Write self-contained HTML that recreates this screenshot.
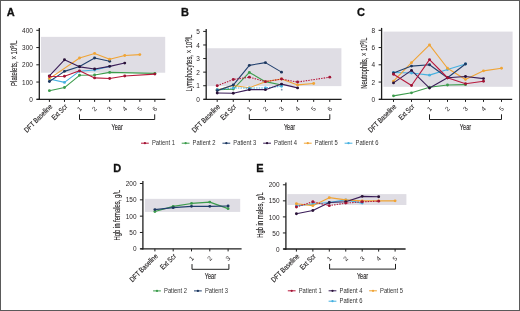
<!DOCTYPE html>
<html><head><meta charset="utf-8"><style>
html,body{margin:0;padding:0;background:#fff;}
#wrap{position:relative;width:520px;height:311px;overflow:hidden;background:#fff;}
svg{position:absolute;left:0;top:0;will-change:transform;}
text{font-family:"Liberation Sans", sans-serif;}
.b{stroke:#2a2a2a;stroke-width:0.14px;}
</style></head><body><div id="wrap">
<svg width="520" height="311" viewBox="0 0 520 311" font-family='"Liberation Sans", sans-serif'>
<rect x="0" y="0" width="520" height="311" fill="#fff"/>
<rect x="40.90" y="36.86" width="124.30" height="35.88" fill="#dfdde4"/>
<polyline points="49.40,90.67 64.47,87.57 79.54,75.32 94.61,74.98 109.68,72.39 154.89,73.42" fill="none" stroke="#3c9c4c" stroke-width="1.1" stroke-linejoin="round"/>
<circle cx="49.40" cy="90.67" r="1.45" fill="#3c9c4c"/>
<circle cx="64.47" cy="87.57" r="1.45" fill="#3c9c4c"/>
<circle cx="79.54" cy="75.32" r="1.45" fill="#3c9c4c"/>
<circle cx="94.61" cy="74.98" r="1.45" fill="#3c9c4c"/>
<circle cx="109.68" cy="72.39" r="1.45" fill="#3c9c4c"/>
<circle cx="154.89" cy="73.42" r="1.45" fill="#3c9c4c"/>
<polyline points="49.40,78.94 64.47,82.39 79.54,71.18 94.61,69.97 109.68,66.35" fill="none" stroke="#45b0e0" stroke-width="1.1" stroke-linejoin="round"/>
<circle cx="49.40" cy="78.94" r="1.45" fill="#45b0e0"/>
<circle cx="64.47" cy="82.39" r="1.45" fill="#45b0e0"/>
<circle cx="79.54" cy="71.18" r="1.45" fill="#45b0e0"/>
<circle cx="94.61" cy="69.97" r="1.45" fill="#45b0e0"/>
<circle cx="109.68" cy="66.35" r="1.45" fill="#45b0e0"/>
<polyline points="49.40,81.53 64.47,71.36 79.54,66.53 94.61,58.07 109.68,61.18" fill="none" stroke="#22406e" stroke-width="1.1" stroke-linejoin="round"/>
<circle cx="49.40" cy="81.53" r="1.45" fill="#1c365e"/>
<circle cx="64.47" cy="71.36" r="1.45" fill="#1c365e"/>
<circle cx="79.54" cy="66.53" r="1.45" fill="#1c365e"/>
<circle cx="94.61" cy="58.07" r="1.45" fill="#1c365e"/>
<circle cx="109.68" cy="61.18" r="1.45" fill="#1c365e"/>
<polyline points="49.40,78.60 79.54,58.07 94.61,53.41 109.68,59.28 124.75,55.48 139.82,54.62" fill="none" stroke="#f0a435" stroke-width="1.1" stroke-linejoin="round"/>
<circle cx="49.40" cy="78.60" r="1.45" fill="#f0a435"/>
<circle cx="79.54" cy="58.07" r="1.45" fill="#f0a435"/>
<circle cx="94.61" cy="53.41" r="1.45" fill="#f0a435"/>
<circle cx="109.68" cy="59.28" r="1.45" fill="#f0a435"/>
<circle cx="124.75" cy="55.48" r="1.45" fill="#f0a435"/>
<circle cx="139.82" cy="54.62" r="1.45" fill="#f0a435"/>
<polyline points="49.40,75.84 64.47,59.80 79.54,66.87 94.61,68.94 109.68,66.35 124.75,63.08" fill="none" stroke="#3a1d58" stroke-width="1.1" stroke-linejoin="round"/>
<circle cx="49.40" cy="75.84" r="1.45" fill="#2a1238"/>
<circle cx="64.47" cy="59.80" r="1.45" fill="#2a1238"/>
<circle cx="79.54" cy="66.87" r="1.45" fill="#2a1238"/>
<circle cx="94.61" cy="68.94" r="1.45" fill="#2a1238"/>
<circle cx="109.68" cy="66.35" r="1.45" fill="#2a1238"/>
<circle cx="124.75" cy="63.08" r="1.45" fill="#2a1238"/>
<polyline points="49.40,76.53 64.47,76.19 79.54,70.84 94.61,77.91 109.68,78.43 124.75,76.01 154.89,74.11" fill="none" stroke="#b8193c" stroke-width="1.1" stroke-linejoin="round"/>
<circle cx="49.40" cy="76.53" r="1.45" fill="#a01535"/>
<circle cx="64.47" cy="76.19" r="1.45" fill="#a01535"/>
<circle cx="79.54" cy="70.84" r="1.45" fill="#a01535"/>
<circle cx="94.61" cy="77.91" r="1.45" fill="#a01535"/>
<circle cx="109.68" cy="78.43" r="1.45" fill="#a01535"/>
<circle cx="124.75" cy="76.01" r="1.45" fill="#a01535"/>
<circle cx="154.89" cy="74.11" r="1.45" fill="#a01535"/>
<line x1="39.30" y1="27.90" x2="39.30" y2="99.95" stroke="#1e1e1e" stroke-width="1.3" />
<line x1="36.70" y1="99.30" x2="165.40" y2="99.30" stroke="#1e1e1e" stroke-width="1.3" />
<line x1="36.30" y1="99.30" x2="39.30" y2="99.30" stroke="#1e1e1e" stroke-width="1.0" />
<text x="32.90" y="99.40" font-size="6.5" text-anchor="end" font-weight="normal" fill="#231f20" textLength="3.6" lengthAdjust="spacingAndGlyphs" dominant-baseline="central" >0</text>
<line x1="36.30" y1="82.05" x2="39.30" y2="82.05" stroke="#1e1e1e" stroke-width="1.0" />
<text x="32.90" y="82.15" font-size="6.5" text-anchor="end" font-weight="normal" fill="#231f20" textLength="10.8" lengthAdjust="spacingAndGlyphs" dominant-baseline="central" >100</text>
<line x1="36.30" y1="64.80" x2="39.30" y2="64.80" stroke="#1e1e1e" stroke-width="1.0" />
<text x="32.90" y="64.90" font-size="6.5" text-anchor="end" font-weight="normal" fill="#231f20" textLength="10.8" lengthAdjust="spacingAndGlyphs" dominant-baseline="central" >200</text>
<line x1="36.30" y1="47.55" x2="39.30" y2="47.55" stroke="#1e1e1e" stroke-width="1.0" />
<text x="32.90" y="47.65" font-size="6.5" text-anchor="end" font-weight="normal" fill="#231f20" textLength="10.8" lengthAdjust="spacingAndGlyphs" dominant-baseline="central" >300</text>
<line x1="36.30" y1="30.30" x2="39.30" y2="30.30" stroke="#1e1e1e" stroke-width="1.0" />
<text x="32.90" y="30.40" font-size="6.5" text-anchor="end" font-weight="normal" fill="#231f20" textLength="10.8" lengthAdjust="spacingAndGlyphs" dominant-baseline="central" >400</text>
<line x1="49.40" y1="99.30" x2="49.40" y2="101.90" stroke="#1e1e1e" stroke-width="1.0" />
<line x1="64.47" y1="99.30" x2="64.47" y2="101.90" stroke="#1e1e1e" stroke-width="1.0" />
<line x1="79.54" y1="99.30" x2="79.54" y2="101.90" stroke="#1e1e1e" stroke-width="1.0" />
<line x1="94.61" y1="99.30" x2="94.61" y2="101.90" stroke="#1e1e1e" stroke-width="1.0" />
<line x1="109.68" y1="99.30" x2="109.68" y2="101.90" stroke="#1e1e1e" stroke-width="1.0" />
<line x1="124.75" y1="99.30" x2="124.75" y2="101.90" stroke="#1e1e1e" stroke-width="1.0" />
<line x1="139.82" y1="99.30" x2="139.82" y2="101.90" stroke="#1e1e1e" stroke-width="1.0" />
<line x1="154.89" y1="99.30" x2="154.89" y2="101.90" stroke="#1e1e1e" stroke-width="1.0" />
<text x="51.00" y="105.40" font-size="7.3" text-anchor="end" font-weight="normal" fill="#231f20" transform="rotate(-45 51.00 105.40)" textLength="36.5" lengthAdjust="spacingAndGlyphs" dominant-baseline="central"  class="b">DFT Baseline</text>
<text x="66.07" y="105.40" font-size="7.3" text-anchor="end" font-weight="normal" fill="#231f20" transform="rotate(-45 66.07 105.40)" textLength="19.0" lengthAdjust="spacingAndGlyphs" dominant-baseline="central"  class="b">Ext Scr</text>
<text x="80.54" y="107.40" font-size="6.5" text-anchor="end" font-weight="normal" fill="#231f20" transform="rotate(-45 80.54 107.40)" dominant-baseline="central" >1</text>
<text x="95.61" y="107.40" font-size="6.5" text-anchor="end" font-weight="normal" fill="#231f20" transform="rotate(-45 95.61 107.40)" dominant-baseline="central" >2</text>
<text x="110.68" y="107.40" font-size="6.5" text-anchor="end" font-weight="normal" fill="#231f20" transform="rotate(-45 110.68 107.40)" dominant-baseline="central" >3</text>
<text x="125.75" y="107.40" font-size="6.5" text-anchor="end" font-weight="normal" fill="#231f20" transform="rotate(-45 125.75 107.40)" dominant-baseline="central" >4</text>
<text x="140.82" y="107.40" font-size="6.5" text-anchor="end" font-weight="normal" fill="#231f20" transform="rotate(-45 140.82 107.40)" dominant-baseline="central" >5</text>
<text x="155.89" y="107.40" font-size="6.5" text-anchor="end" font-weight="normal" fill="#231f20" transform="rotate(-45 155.89 107.40)" dominant-baseline="central" >6</text>
<polyline points="79.50,114.30 79.50,119.50 154.70,119.50 154.70,114.30" fill="none" stroke="#1e1e1e" stroke-width="1.0"/>
<text x="117.10" y="129.80" font-size="8.8" text-anchor="middle" font-weight="normal" fill="#231f20" textLength="11.3" lengthAdjust="spacingAndGlyphs"  class="b">Year</text>
<text x="0" y="0" font-size="8.6" text-anchor="middle" fill="#231f20" class="b" transform="translate(17.10 63.25) rotate(-90) scale(0.6982 1)">Platelets, × 10<tspan dy="-2.9" font-size="5.4">9</tspan><tspan dy="2.9">/L</tspan></text>
<text x="6.80" y="15.90" font-size="11.0" text-anchor="start" font-weight="bold" fill="#111" stroke="#111" stroke-width="0.3">A</text>
<rect x="207.20" y="48.24" width="134.20" height="37.89" fill="#dfdde4"/>
<polyline points="217.20,89.66 233.28,89.11 249.36,72.41 265.44,81.65 281.52,85.04" fill="none" stroke="#3c9c4c" stroke-width="1.1" stroke-linejoin="round"/>
<circle cx="217.20" cy="89.66" r="1.45" fill="#3c9c4c"/>
<circle cx="233.28" cy="89.11" r="1.45" fill="#3c9c4c"/>
<circle cx="249.36" cy="72.41" r="1.45" fill="#3c9c4c"/>
<circle cx="265.44" cy="81.65" r="1.45" fill="#3c9c4c"/>
<circle cx="281.52" cy="85.04" r="1.45" fill="#3c9c4c"/>
<polyline points="217.20,90.07 233.28,85.45 249.36,87.76 265.44,81.65 281.52,78.93 297.60,84.91 313.68,83.55" fill="none" stroke="#f0a435" stroke-width="1.1" stroke-linejoin="round"/>
<circle cx="217.20" cy="90.07" r="1.45" fill="#f0a435"/>
<circle cx="233.28" cy="85.45" r="1.45" fill="#f0a435"/>
<circle cx="249.36" cy="87.76" r="1.45" fill="#f0a435"/>
<circle cx="265.44" cy="81.65" r="1.45" fill="#f0a435"/>
<circle cx="281.52" cy="78.93" r="1.45" fill="#f0a435"/>
<circle cx="297.60" cy="84.91" r="1.45" fill="#f0a435"/>
<circle cx="313.68" cy="83.55" r="1.45" fill="#f0a435"/>
<polyline points="217.20,89.79 233.28,87.89 249.36,88.16 265.44,87.89 281.52,86.26" fill="none" stroke="#45b0e0" stroke-width="1.1" stroke-linejoin="round" stroke-dasharray="1.5 1.1"/>
<circle cx="217.20" cy="89.79" r="1.45" fill="#45b0e0"/>
<circle cx="233.28" cy="87.89" r="1.45" fill="#45b0e0"/>
<circle cx="249.36" cy="88.16" r="1.45" fill="#45b0e0"/>
<circle cx="265.44" cy="87.89" r="1.45" fill="#45b0e0"/>
<circle cx="281.52" cy="86.26" r="1.45" fill="#45b0e0"/>
<polyline points="217.20,90.61 233.28,85.04 249.36,65.35 265.44,62.63 281.52,72.14" fill="none" stroke="#22406e" stroke-width="1.1" stroke-linejoin="round"/>
<circle cx="217.20" cy="90.61" r="1.45" fill="#1c365e"/>
<circle cx="233.28" cy="85.04" r="1.45" fill="#1c365e"/>
<circle cx="249.36" cy="65.35" r="1.45" fill="#1c365e"/>
<circle cx="265.44" cy="62.63" r="1.45" fill="#1c365e"/>
<circle cx="281.52" cy="72.14" r="1.45" fill="#1c365e"/>
<polyline points="217.20,93.05 233.28,93.32 249.36,89.66 265.44,89.66 281.52,84.09 297.60,87.89" fill="none" stroke="#3a1d58" stroke-width="1.1" stroke-linejoin="round"/>
<circle cx="217.20" cy="93.05" r="1.45" fill="#2a1238"/>
<circle cx="233.28" cy="93.32" r="1.45" fill="#2a1238"/>
<circle cx="249.36" cy="89.66" r="1.45" fill="#2a1238"/>
<circle cx="265.44" cy="89.66" r="1.45" fill="#2a1238"/>
<circle cx="281.52" cy="84.09" r="1.45" fill="#2a1238"/>
<circle cx="297.60" cy="87.89" r="1.45" fill="#2a1238"/>
<polyline points="217.20,85.72 233.28,79.47 249.36,77.16 265.44,81.65 281.52,79.07 297.60,82.05 329.76,77.16" fill="none" stroke="#b8193c" stroke-width="1.1" stroke-linejoin="round" stroke-dasharray="1.5 1.1"/>
<circle cx="217.20" cy="85.72" r="1.45" fill="#a01535"/>
<circle cx="233.28" cy="79.47" r="1.45" fill="#a01535"/>
<circle cx="249.36" cy="77.16" r="1.45" fill="#a01535"/>
<circle cx="265.44" cy="81.65" r="1.45" fill="#a01535"/>
<circle cx="281.52" cy="79.07" r="1.45" fill="#a01535"/>
<circle cx="297.60" cy="82.05" r="1.45" fill="#a01535"/>
<circle cx="329.76" cy="77.16" r="1.45" fill="#a01535"/>
<line x1="206.20" y1="29.00" x2="206.20" y2="99.95" stroke="#1e1e1e" stroke-width="1.3" />
<line x1="203.60" y1="99.30" x2="341.60" y2="99.30" stroke="#1e1e1e" stroke-width="1.3" />
<line x1="203.20" y1="99.30" x2="206.20" y2="99.30" stroke="#1e1e1e" stroke-width="1.0" />
<text x="199.80" y="99.40" font-size="6.5" text-anchor="end" font-weight="normal" fill="#231f20" textLength="3.6" lengthAdjust="spacingAndGlyphs" dominant-baseline="central" >0</text>
<line x1="203.20" y1="85.72" x2="206.20" y2="85.72" stroke="#1e1e1e" stroke-width="1.0" />
<text x="199.80" y="85.82" font-size="6.5" text-anchor="end" font-weight="normal" fill="#231f20" textLength="3.6" lengthAdjust="spacingAndGlyphs" dominant-baseline="central" >1</text>
<line x1="203.20" y1="72.14" x2="206.20" y2="72.14" stroke="#1e1e1e" stroke-width="1.0" />
<text x="199.80" y="72.24" font-size="6.5" text-anchor="end" font-weight="normal" fill="#231f20" textLength="3.6" lengthAdjust="spacingAndGlyphs" dominant-baseline="central" >2</text>
<line x1="203.20" y1="58.56" x2="206.20" y2="58.56" stroke="#1e1e1e" stroke-width="1.0" />
<text x="199.80" y="58.66" font-size="6.5" text-anchor="end" font-weight="normal" fill="#231f20" textLength="3.6" lengthAdjust="spacingAndGlyphs" dominant-baseline="central" >3</text>
<line x1="203.20" y1="44.98" x2="206.20" y2="44.98" stroke="#1e1e1e" stroke-width="1.0" />
<text x="199.80" y="45.08" font-size="6.5" text-anchor="end" font-weight="normal" fill="#231f20" textLength="3.6" lengthAdjust="spacingAndGlyphs" dominant-baseline="central" >4</text>
<line x1="203.20" y1="31.40" x2="206.20" y2="31.40" stroke="#1e1e1e" stroke-width="1.0" />
<text x="199.80" y="31.50" font-size="6.5" text-anchor="end" font-weight="normal" fill="#231f20" textLength="3.6" lengthAdjust="spacingAndGlyphs" dominant-baseline="central" >5</text>
<line x1="217.20" y1="99.30" x2="217.20" y2="101.90" stroke="#1e1e1e" stroke-width="1.0" />
<line x1="233.28" y1="99.30" x2="233.28" y2="101.90" stroke="#1e1e1e" stroke-width="1.0" />
<line x1="249.36" y1="99.30" x2="249.36" y2="101.90" stroke="#1e1e1e" stroke-width="1.0" />
<line x1="265.44" y1="99.30" x2="265.44" y2="101.90" stroke="#1e1e1e" stroke-width="1.0" />
<line x1="281.52" y1="99.30" x2="281.52" y2="101.90" stroke="#1e1e1e" stroke-width="1.0" />
<line x1="297.60" y1="99.30" x2="297.60" y2="101.90" stroke="#1e1e1e" stroke-width="1.0" />
<line x1="313.68" y1="99.30" x2="313.68" y2="101.90" stroke="#1e1e1e" stroke-width="1.0" />
<line x1="329.76" y1="99.30" x2="329.76" y2="101.90" stroke="#1e1e1e" stroke-width="1.0" />
<text x="218.80" y="105.40" font-size="7.3" text-anchor="end" font-weight="normal" fill="#231f20" transform="rotate(-45 218.80 105.40)" textLength="36.5" lengthAdjust="spacingAndGlyphs" dominant-baseline="central"  class="b">DFT Baseline</text>
<text x="234.88" y="105.40" font-size="7.3" text-anchor="end" font-weight="normal" fill="#231f20" transform="rotate(-45 234.88 105.40)" textLength="19.0" lengthAdjust="spacingAndGlyphs" dominant-baseline="central"  class="b">Ext Scr</text>
<text x="250.36" y="107.40" font-size="6.5" text-anchor="end" font-weight="normal" fill="#231f20" transform="rotate(-45 250.36 107.40)" dominant-baseline="central" >1</text>
<text x="266.44" y="107.40" font-size="6.5" text-anchor="end" font-weight="normal" fill="#231f20" transform="rotate(-45 266.44 107.40)" dominant-baseline="central" >2</text>
<text x="282.52" y="107.40" font-size="6.5" text-anchor="end" font-weight="normal" fill="#231f20" transform="rotate(-45 282.52 107.40)" dominant-baseline="central" >3</text>
<text x="298.60" y="107.40" font-size="6.5" text-anchor="end" font-weight="normal" fill="#231f20" transform="rotate(-45 298.60 107.40)" dominant-baseline="central" >4</text>
<text x="314.68" y="107.40" font-size="6.5" text-anchor="end" font-weight="normal" fill="#231f20" transform="rotate(-45 314.68 107.40)" dominant-baseline="central" >5</text>
<text x="330.76" y="107.40" font-size="6.5" text-anchor="end" font-weight="normal" fill="#231f20" transform="rotate(-45 330.76 107.40)" dominant-baseline="central" >6</text>
<polyline points="249.30,114.30 249.30,119.50 329.80,119.50 329.80,114.30" fill="none" stroke="#1e1e1e" stroke-width="1.0"/>
<text x="289.55" y="129.80" font-size="8.8" text-anchor="middle" font-weight="normal" fill="#231f20" textLength="11.3" lengthAdjust="spacingAndGlyphs"  class="b">Year</text>
<text x="0" y="0" font-size="8.6" text-anchor="middle" fill="#231f20" class="b" transform="translate(191.60 63.00) rotate(-90) scale(0.6932 1)">Lymphocytes, × 10<tspan dy="-2.9" font-size="5.4">9</tspan><tspan dy="2.9">/L</tspan></text>
<text x="181.00" y="15.90" font-size="11.0" text-anchor="start" font-weight="bold" fill="#111" stroke="#111" stroke-width="0.3">B</text>
<rect x="383.40" y="31.59" width="129.20" height="55.20" fill="#dfdde4"/>
<polyline points="393.50,95.85 411.50,92.83 429.50,87.22 447.50,85.07 465.50,84.64" fill="none" stroke="#3c9c4c" stroke-width="1.1" stroke-linejoin="round"/>
<circle cx="393.50" cy="95.85" r="1.45" fill="#3c9c4c"/>
<circle cx="411.50" cy="92.83" r="1.45" fill="#3c9c4c"/>
<circle cx="429.50" cy="87.22" r="1.45" fill="#3c9c4c"/>
<circle cx="447.50" cy="85.07" r="1.45" fill="#3c9c4c"/>
<circle cx="465.50" cy="84.64" r="1.45" fill="#3c9c4c"/>
<polyline points="393.50,72.56 411.50,72.99 429.50,75.15 447.50,69.54 465.50,63.94" fill="none" stroke="#45b0e0" stroke-width="1.1" stroke-linejoin="round"/>
<circle cx="393.50" cy="72.56" r="1.45" fill="#45b0e0"/>
<circle cx="411.50" cy="72.99" r="1.45" fill="#45b0e0"/>
<circle cx="429.50" cy="75.15" r="1.45" fill="#45b0e0"/>
<circle cx="447.50" cy="69.54" r="1.45" fill="#45b0e0"/>
<circle cx="465.50" cy="63.94" r="1.45" fill="#45b0e0"/>
<polyline points="393.50,81.19 411.50,62.64 429.50,44.96 447.50,68.25 465.50,79.46 483.50,70.84 501.50,68.25" fill="none" stroke="#f0a435" stroke-width="1.1" stroke-linejoin="round"/>
<circle cx="393.50" cy="81.19" r="1.45" fill="#f0a435"/>
<circle cx="411.50" cy="62.64" r="1.45" fill="#f0a435"/>
<circle cx="429.50" cy="44.96" r="1.45" fill="#f0a435"/>
<circle cx="447.50" cy="68.25" r="1.45" fill="#f0a435"/>
<circle cx="465.50" cy="79.46" r="1.45" fill="#f0a435"/>
<circle cx="483.50" cy="70.84" r="1.45" fill="#f0a435"/>
<circle cx="501.50" cy="68.25" r="1.45" fill="#f0a435"/>
<polyline points="393.50,72.99 411.50,66.09 429.50,64.80 447.50,77.74 465.50,63.94" fill="none" stroke="#22406e" stroke-width="1.1" stroke-linejoin="round"/>
<circle cx="393.50" cy="72.99" r="1.45" fill="#1c365e"/>
<circle cx="411.50" cy="66.09" r="1.45" fill="#1c365e"/>
<circle cx="429.50" cy="64.80" r="1.45" fill="#1c365e"/>
<circle cx="447.50" cy="77.74" r="1.45" fill="#1c365e"/>
<circle cx="465.50" cy="63.94" r="1.45" fill="#1c365e"/>
<polyline points="393.50,82.91 411.50,70.41 429.50,88.09 447.50,77.74 465.50,76.44 483.50,78.60" fill="none" stroke="#3a1d58" stroke-width="1.1" stroke-linejoin="round"/>
<circle cx="393.50" cy="82.91" r="1.45" fill="#2a1238"/>
<circle cx="411.50" cy="70.41" r="1.45" fill="#2a1238"/>
<circle cx="429.50" cy="88.09" r="1.45" fill="#2a1238"/>
<circle cx="447.50" cy="77.74" r="1.45" fill="#2a1238"/>
<circle cx="465.50" cy="76.44" r="1.45" fill="#2a1238"/>
<circle cx="483.50" cy="78.60" r="1.45" fill="#2a1238"/>
<polyline points="393.50,74.29 411.50,85.50 429.50,59.62 447.50,77.74 465.50,83.77 483.50,81.19" fill="none" stroke="#b8193c" stroke-width="1.1" stroke-linejoin="round"/>
<circle cx="393.50" cy="74.29" r="1.45" fill="#a01535"/>
<circle cx="411.50" cy="85.50" r="1.45" fill="#a01535"/>
<circle cx="429.50" cy="59.62" r="1.45" fill="#a01535"/>
<circle cx="447.50" cy="77.74" r="1.45" fill="#a01535"/>
<circle cx="465.50" cy="83.77" r="1.45" fill="#a01535"/>
<circle cx="483.50" cy="81.19" r="1.45" fill="#a01535"/>
<line x1="381.60" y1="27.90" x2="381.60" y2="99.95" stroke="#1e1e1e" stroke-width="1.3" />
<line x1="379.00" y1="99.30" x2="512.20" y2="99.30" stroke="#1e1e1e" stroke-width="1.3" />
<line x1="378.60" y1="99.30" x2="381.60" y2="99.30" stroke="#1e1e1e" stroke-width="1.0" />
<text x="375.20" y="99.40" font-size="6.5" text-anchor="end" font-weight="normal" fill="#231f20" textLength="3.6" lengthAdjust="spacingAndGlyphs" dominant-baseline="central" >0</text>
<line x1="378.60" y1="82.05" x2="381.60" y2="82.05" stroke="#1e1e1e" stroke-width="1.0" />
<text x="375.20" y="82.15" font-size="6.5" text-anchor="end" font-weight="normal" fill="#231f20" textLength="3.6" lengthAdjust="spacingAndGlyphs" dominant-baseline="central" >2</text>
<line x1="378.60" y1="64.80" x2="381.60" y2="64.80" stroke="#1e1e1e" stroke-width="1.0" />
<text x="375.20" y="64.90" font-size="6.5" text-anchor="end" font-weight="normal" fill="#231f20" textLength="3.6" lengthAdjust="spacingAndGlyphs" dominant-baseline="central" >4</text>
<line x1="378.60" y1="47.55" x2="381.60" y2="47.55" stroke="#1e1e1e" stroke-width="1.0" />
<text x="375.20" y="47.65" font-size="6.5" text-anchor="end" font-weight="normal" fill="#231f20" textLength="3.6" lengthAdjust="spacingAndGlyphs" dominant-baseline="central" >6</text>
<line x1="378.60" y1="30.30" x2="381.60" y2="30.30" stroke="#1e1e1e" stroke-width="1.0" />
<text x="375.20" y="30.40" font-size="6.5" text-anchor="end" font-weight="normal" fill="#231f20" textLength="3.6" lengthAdjust="spacingAndGlyphs" dominant-baseline="central" >8</text>
<line x1="393.50" y1="99.30" x2="393.50" y2="101.90" stroke="#1e1e1e" stroke-width="1.0" />
<line x1="411.50" y1="99.30" x2="411.50" y2="101.90" stroke="#1e1e1e" stroke-width="1.0" />
<line x1="429.50" y1="99.30" x2="429.50" y2="101.90" stroke="#1e1e1e" stroke-width="1.0" />
<line x1="447.50" y1="99.30" x2="447.50" y2="101.90" stroke="#1e1e1e" stroke-width="1.0" />
<line x1="465.50" y1="99.30" x2="465.50" y2="101.90" stroke="#1e1e1e" stroke-width="1.0" />
<line x1="483.50" y1="99.30" x2="483.50" y2="101.90" stroke="#1e1e1e" stroke-width="1.0" />
<line x1="501.50" y1="99.30" x2="501.50" y2="101.90" stroke="#1e1e1e" stroke-width="1.0" />
<text x="395.10" y="105.40" font-size="7.3" text-anchor="end" font-weight="normal" fill="#231f20" transform="rotate(-45 395.10 105.40)" textLength="36.5" lengthAdjust="spacingAndGlyphs" dominant-baseline="central"  class="b">DFT Baseline</text>
<text x="413.10" y="105.40" font-size="7.3" text-anchor="end" font-weight="normal" fill="#231f20" transform="rotate(-45 413.10 105.40)" textLength="19.0" lengthAdjust="spacingAndGlyphs" dominant-baseline="central"  class="b">Ext Scr</text>
<text x="430.50" y="107.40" font-size="6.5" text-anchor="end" font-weight="normal" fill="#231f20" transform="rotate(-45 430.50 107.40)" dominant-baseline="central" >1</text>
<text x="448.50" y="107.40" font-size="6.5" text-anchor="end" font-weight="normal" fill="#231f20" transform="rotate(-45 448.50 107.40)" dominant-baseline="central" >2</text>
<text x="466.50" y="107.40" font-size="6.5" text-anchor="end" font-weight="normal" fill="#231f20" transform="rotate(-45 466.50 107.40)" dominant-baseline="central" >3</text>
<text x="484.50" y="107.40" font-size="6.5" text-anchor="end" font-weight="normal" fill="#231f20" transform="rotate(-45 484.50 107.40)" dominant-baseline="central" >4</text>
<text x="502.50" y="107.40" font-size="6.5" text-anchor="end" font-weight="normal" fill="#231f20" transform="rotate(-45 502.50 107.40)" dominant-baseline="central" >5</text>
<polyline points="429.50,114.30 429.50,119.50 501.50,119.50 501.50,114.30" fill="none" stroke="#1e1e1e" stroke-width="1.0"/>
<text x="465.50" y="129.80" font-size="8.8" text-anchor="middle" font-weight="normal" fill="#231f20" textLength="11.3" lengthAdjust="spacingAndGlyphs"  class="b">Year</text>
<text x="0" y="0" font-size="8.6" text-anchor="middle" fill="#231f20" class="b" transform="translate(366.60 63.20) rotate(-90) scale(0.6791 1)">Neutrophils, × 10<tspan dy="-2.9" font-size="5.4">9</tspan><tspan dy="2.9">/L</tspan></text>
<text x="357.00" y="16.10" font-size="11.0" text-anchor="start" font-weight="bold" fill="#111" stroke="#111" stroke-width="0.3">C</text>
<rect x="144.90" y="198.85" width="95.30" height="13.06" fill="#dfdde4"/>
<polyline points="154.90,211.58 173.20,206.36 191.50,203.42 209.80,202.11 228.10,208.64" fill="none" stroke="#3c9c4c" stroke-width="1.1" stroke-linejoin="round"/>
<circle cx="154.90" cy="211.58" r="1.45" fill="#3c9c4c"/>
<circle cx="173.20" cy="206.36" r="1.45" fill="#3c9c4c"/>
<circle cx="191.50" cy="203.42" r="1.45" fill="#3c9c4c"/>
<circle cx="209.80" cy="202.11" r="1.45" fill="#3c9c4c"/>
<circle cx="228.10" cy="208.64" r="1.45" fill="#3c9c4c"/>
<polyline points="154.90,209.62 173.20,207.66 191.50,206.36 209.80,206.36 228.10,206.03" fill="none" stroke="#22406e" stroke-width="1.1" stroke-linejoin="round"/>
<circle cx="154.90" cy="209.62" r="1.45" fill="#1c365e"/>
<circle cx="173.20" cy="207.66" r="1.45" fill="#1c365e"/>
<circle cx="191.50" cy="206.36" r="1.45" fill="#1c365e"/>
<circle cx="209.80" cy="206.36" r="1.45" fill="#1c365e"/>
<circle cx="228.10" cy="206.03" r="1.45" fill="#1c365e"/>
<line x1="142.90" y1="181.10" x2="142.90" y2="249.45" stroke="#1e1e1e" stroke-width="1.3" />
<line x1="140.30" y1="248.80" x2="241.60" y2="248.80" stroke="#1e1e1e" stroke-width="1.3" />
<line x1="139.90" y1="248.80" x2="142.90" y2="248.80" stroke="#1e1e1e" stroke-width="1.0" />
<text x="136.50" y="248.90" font-size="6.5" text-anchor="end" font-weight="normal" fill="#231f20" textLength="3.6" lengthAdjust="spacingAndGlyphs" dominant-baseline="central" >0</text>
<line x1="139.90" y1="232.48" x2="142.90" y2="232.48" stroke="#1e1e1e" stroke-width="1.0" />
<text x="136.50" y="232.58" font-size="6.5" text-anchor="end" font-weight="normal" fill="#231f20" textLength="7.2" lengthAdjust="spacingAndGlyphs" dominant-baseline="central" >50</text>
<line x1="139.90" y1="216.15" x2="142.90" y2="216.15" stroke="#1e1e1e" stroke-width="1.0" />
<text x="136.50" y="216.25" font-size="6.5" text-anchor="end" font-weight="normal" fill="#231f20" textLength="10.8" lengthAdjust="spacingAndGlyphs" dominant-baseline="central" >100</text>
<line x1="139.90" y1="199.83" x2="142.90" y2="199.83" stroke="#1e1e1e" stroke-width="1.0" />
<text x="136.50" y="199.93" font-size="6.5" text-anchor="end" font-weight="normal" fill="#231f20" textLength="10.8" lengthAdjust="spacingAndGlyphs" dominant-baseline="central" >150</text>
<line x1="139.90" y1="183.50" x2="142.90" y2="183.50" stroke="#1e1e1e" stroke-width="1.0" />
<text x="136.50" y="183.60" font-size="6.5" text-anchor="end" font-weight="normal" fill="#231f20" textLength="10.8" lengthAdjust="spacingAndGlyphs" dominant-baseline="central" >200</text>
<line x1="154.90" y1="248.80" x2="154.90" y2="251.40" stroke="#1e1e1e" stroke-width="1.0" />
<line x1="173.20" y1="248.80" x2="173.20" y2="251.40" stroke="#1e1e1e" stroke-width="1.0" />
<line x1="191.50" y1="248.80" x2="191.50" y2="251.40" stroke="#1e1e1e" stroke-width="1.0" />
<line x1="209.80" y1="248.80" x2="209.80" y2="251.40" stroke="#1e1e1e" stroke-width="1.0" />
<line x1="228.10" y1="248.80" x2="228.10" y2="251.40" stroke="#1e1e1e" stroke-width="1.0" />
<text x="156.50" y="254.90" font-size="7.3" text-anchor="end" font-weight="normal" fill="#231f20" transform="rotate(-45 156.50 254.90)" textLength="36.5" lengthAdjust="spacingAndGlyphs" dominant-baseline="central"  class="b">DFT Baseline</text>
<text x="174.80" y="254.90" font-size="7.3" text-anchor="end" font-weight="normal" fill="#231f20" transform="rotate(-45 174.80 254.90)" textLength="19.0" lengthAdjust="spacingAndGlyphs" dominant-baseline="central"  class="b">Ext Scr</text>
<text x="192.50" y="256.90" font-size="6.5" text-anchor="end" font-weight="normal" fill="#231f20" transform="rotate(-45 192.50 256.90)" dominant-baseline="central" >1</text>
<text x="210.80" y="256.90" font-size="6.5" text-anchor="end" font-weight="normal" fill="#231f20" transform="rotate(-45 210.80 256.90)" dominant-baseline="central" >2</text>
<text x="229.10" y="256.90" font-size="6.5" text-anchor="end" font-weight="normal" fill="#231f20" transform="rotate(-45 229.10 256.90)" dominant-baseline="central" >3</text>
<polyline points="192.00,264.10 192.00,269.30 228.90,269.30 228.90,264.10" fill="none" stroke="#1e1e1e" stroke-width="1.0"/>
<text x="210.45" y="279.20" font-size="8.8" text-anchor="middle" font-weight="normal" fill="#231f20" textLength="11.3" lengthAdjust="spacingAndGlyphs"  class="b">Year</text>
<text x="0" y="0" font-size="8.6" text-anchor="middle" fill="#231f20" class="b" transform="translate(120.20 215.20) rotate(-90) scale(0.6860 1)">Hgb in females, g/L</text>
<text x="113.30" y="171.50" font-size="11.0" text-anchor="start" font-weight="bold" fill="#111" stroke="#111" stroke-width="0.3">D</text>
<rect x="287.40" y="194.11" width="119.00" height="10.91" fill="#dfdde4"/>
<polyline points="296.40,205.99 312.85,204.06 329.30,202.45 345.75,199.89 362.20,203.10" fill="none" stroke="#45b0e0" stroke-width="1.1" stroke-linejoin="round"/>
<circle cx="296.40" cy="205.99" r="1.45" fill="#45b0e0"/>
<circle cx="312.85" cy="204.06" r="1.45" fill="#45b0e0"/>
<circle cx="329.30" cy="202.45" r="1.45" fill="#45b0e0"/>
<circle cx="345.75" cy="199.89" r="1.45" fill="#45b0e0"/>
<circle cx="362.20" cy="203.10" r="1.45" fill="#45b0e0"/>
<polyline points="296.40,203.74 312.85,205.66 329.30,197.64 345.75,199.89 362.20,200.85 378.65,200.85 395.10,200.85" fill="none" stroke="#f0a435" stroke-width="1.1" stroke-linejoin="round"/>
<circle cx="296.40" cy="203.74" r="1.45" fill="#f0a435"/>
<circle cx="312.85" cy="205.66" r="1.45" fill="#f0a435"/>
<circle cx="329.30" cy="197.64" r="1.45" fill="#f0a435"/>
<circle cx="345.75" cy="199.89" r="1.45" fill="#f0a435"/>
<circle cx="362.20" cy="200.85" r="1.45" fill="#f0a435"/>
<circle cx="378.65" cy="200.85" r="1.45" fill="#f0a435"/>
<circle cx="395.10" cy="200.85" r="1.45" fill="#f0a435"/>
<polyline points="296.40,213.69 312.85,210.48 329.30,202.45 345.75,201.81 362.20,196.36 378.65,196.68" fill="none" stroke="#3a1d58" stroke-width="1.1" stroke-linejoin="round"/>
<circle cx="296.40" cy="213.69" r="1.45" fill="#2a1238"/>
<circle cx="312.85" cy="210.48" r="1.45" fill="#2a1238"/>
<circle cx="329.30" cy="202.45" r="1.45" fill="#2a1238"/>
<circle cx="345.75" cy="201.81" r="1.45" fill="#2a1238"/>
<circle cx="362.20" cy="196.36" r="1.45" fill="#2a1238"/>
<circle cx="378.65" cy="196.68" r="1.45" fill="#2a1238"/>
<polyline points="296.40,206.95 312.85,201.81 329.30,205.66 345.75,203.10 362.20,201.81 378.65,201.17" fill="none" stroke="#b8193c" stroke-width="1.1" stroke-linejoin="round" stroke-dasharray="1.5 1.1"/>
<circle cx="296.40" cy="206.95" r="1.45" fill="#a01535"/>
<circle cx="312.85" cy="201.81" r="1.45" fill="#a01535"/>
<circle cx="329.30" cy="205.66" r="1.45" fill="#a01535"/>
<circle cx="345.75" cy="203.10" r="1.45" fill="#a01535"/>
<circle cx="362.20" cy="201.81" r="1.45" fill="#a01535"/>
<circle cx="378.65" cy="201.17" r="1.45" fill="#a01535"/>
<line x1="285.90" y1="182.40" x2="285.90" y2="249.65" stroke="#1e1e1e" stroke-width="1.3" />
<line x1="283.30" y1="249.00" x2="405.60" y2="249.00" stroke="#1e1e1e" stroke-width="1.3" />
<line x1="282.90" y1="249.00" x2="285.90" y2="249.00" stroke="#1e1e1e" stroke-width="1.0" />
<text x="279.50" y="249.10" font-size="6.5" text-anchor="end" font-weight="normal" fill="#231f20" textLength="3.6" lengthAdjust="spacingAndGlyphs" dominant-baseline="central" >0</text>
<line x1="282.90" y1="232.95" x2="285.90" y2="232.95" stroke="#1e1e1e" stroke-width="1.0" />
<text x="279.50" y="233.05" font-size="6.5" text-anchor="end" font-weight="normal" fill="#231f20" textLength="7.2" lengthAdjust="spacingAndGlyphs" dominant-baseline="central" >50</text>
<line x1="282.90" y1="216.90" x2="285.90" y2="216.90" stroke="#1e1e1e" stroke-width="1.0" />
<text x="279.50" y="217.00" font-size="6.5" text-anchor="end" font-weight="normal" fill="#231f20" textLength="10.8" lengthAdjust="spacingAndGlyphs" dominant-baseline="central" >100</text>
<line x1="282.90" y1="200.85" x2="285.90" y2="200.85" stroke="#1e1e1e" stroke-width="1.0" />
<text x="279.50" y="200.95" font-size="6.5" text-anchor="end" font-weight="normal" fill="#231f20" textLength="10.8" lengthAdjust="spacingAndGlyphs" dominant-baseline="central" >150</text>
<line x1="282.90" y1="184.80" x2="285.90" y2="184.80" stroke="#1e1e1e" stroke-width="1.0" />
<text x="279.50" y="184.90" font-size="6.5" text-anchor="end" font-weight="normal" fill="#231f20" textLength="10.8" lengthAdjust="spacingAndGlyphs" dominant-baseline="central" >200</text>
<line x1="296.40" y1="249.00" x2="296.40" y2="251.60" stroke="#1e1e1e" stroke-width="1.0" />
<line x1="312.85" y1="249.00" x2="312.85" y2="251.60" stroke="#1e1e1e" stroke-width="1.0" />
<line x1="329.30" y1="249.00" x2="329.30" y2="251.60" stroke="#1e1e1e" stroke-width="1.0" />
<line x1="345.75" y1="249.00" x2="345.75" y2="251.60" stroke="#1e1e1e" stroke-width="1.0" />
<line x1="362.20" y1="249.00" x2="362.20" y2="251.60" stroke="#1e1e1e" stroke-width="1.0" />
<line x1="378.65" y1="249.00" x2="378.65" y2="251.60" stroke="#1e1e1e" stroke-width="1.0" />
<line x1="395.10" y1="249.00" x2="395.10" y2="251.60" stroke="#1e1e1e" stroke-width="1.0" />
<text x="298.00" y="255.10" font-size="7.3" text-anchor="end" font-weight="normal" fill="#231f20" transform="rotate(-45 298.00 255.10)" textLength="36.5" lengthAdjust="spacingAndGlyphs" dominant-baseline="central"  class="b">DFT Baseline</text>
<text x="314.45" y="255.10" font-size="7.3" text-anchor="end" font-weight="normal" fill="#231f20" transform="rotate(-45 314.45 255.10)" textLength="19.0" lengthAdjust="spacingAndGlyphs" dominant-baseline="central"  class="b">Ext Scr</text>
<text x="330.30" y="257.10" font-size="6.5" text-anchor="end" font-weight="normal" fill="#231f20" transform="rotate(-45 330.30 257.10)" dominant-baseline="central" >1</text>
<text x="346.75" y="257.10" font-size="6.5" text-anchor="end" font-weight="normal" fill="#231f20" transform="rotate(-45 346.75 257.10)" dominant-baseline="central" >2</text>
<text x="363.20" y="257.10" font-size="6.5" text-anchor="end" font-weight="normal" fill="#231f20" transform="rotate(-45 363.20 257.10)" dominant-baseline="central" >3</text>
<text x="379.65" y="257.10" font-size="6.5" text-anchor="end" font-weight="normal" fill="#231f20" transform="rotate(-45 379.65 257.10)" dominant-baseline="central" >4</text>
<text x="396.10" y="257.10" font-size="6.5" text-anchor="end" font-weight="normal" fill="#231f20" transform="rotate(-45 396.10 257.10)" dominant-baseline="central" >5</text>
<polyline points="329.60,263.90 329.60,269.10 395.50,269.10 395.50,263.90" fill="none" stroke="#1e1e1e" stroke-width="1.0"/>
<text x="362.55" y="278.80" font-size="8.8" text-anchor="middle" font-weight="normal" fill="#231f20" textLength="11.3" lengthAdjust="spacingAndGlyphs"  class="b">Year</text>
<text x="0" y="0" font-size="8.6" text-anchor="middle" fill="#231f20" class="b" transform="translate(262.90 215.00) rotate(-90) scale(0.6833 1)">Hgb in males, g/L</text>
<text x="256.30" y="171.50" font-size="11.0" text-anchor="start" font-weight="bold" fill="#111" stroke="#111" stroke-width="0.3">E</text>
<circle cx="281.7" cy="89.7" r="0.9" fill="#7d93a8"/>
<line x1="141.00" y1="143.20" x2="148.80" y2="143.20" stroke="#b8193c" stroke-width="1.0" />
<circle cx="144.90" cy="143.20" r="1.15" fill="#a01535"/>
<text x="151.90" y="145.20" font-size="6.5" text-anchor="start" font-weight="normal" fill="#333" textLength="23.0" lengthAdjust="spacingAndGlyphs" >Patient 1</text>
<line x1="181.72" y1="143.20" x2="189.52" y2="143.20" stroke="#3c9c4c" stroke-width="1.0" />
<circle cx="185.62" cy="143.20" r="1.15" fill="#3c9c4c"/>
<text x="192.62" y="145.20" font-size="6.5" text-anchor="start" font-weight="normal" fill="#333" textLength="23.0" lengthAdjust="spacingAndGlyphs" >Patient 2</text>
<line x1="222.44" y1="143.20" x2="230.24" y2="143.20" stroke="#22406e" stroke-width="1.0" />
<circle cx="226.34" cy="143.20" r="1.15" fill="#1c365e"/>
<text x="233.34" y="145.20" font-size="6.5" text-anchor="start" font-weight="normal" fill="#333" textLength="23.0" lengthAdjust="spacingAndGlyphs" >Patient 3</text>
<line x1="263.16" y1="143.20" x2="270.96" y2="143.20" stroke="#3a1d58" stroke-width="1.0" />
<circle cx="267.06" cy="143.20" r="1.15" fill="#2a1238"/>
<text x="274.06" y="145.20" font-size="6.5" text-anchor="start" font-weight="normal" fill="#333" textLength="23.0" lengthAdjust="spacingAndGlyphs" >Patient 4</text>
<line x1="303.88" y1="143.20" x2="311.68" y2="143.20" stroke="#f0a435" stroke-width="1.0" />
<circle cx="307.78" cy="143.20" r="1.15" fill="#f0a435"/>
<text x="314.78" y="145.20" font-size="6.5" text-anchor="start" font-weight="normal" fill="#333" textLength="23.0" lengthAdjust="spacingAndGlyphs" >Patient 5</text>
<line x1="344.60" y1="143.20" x2="352.40" y2="143.20" stroke="#45b0e0" stroke-width="1.0" />
<circle cx="348.50" cy="143.20" r="1.15" fill="#45b0e0"/>
<text x="355.50" y="145.20" font-size="6.5" text-anchor="start" font-weight="normal" fill="#333" textLength="23.0" lengthAdjust="spacingAndGlyphs" >Patient 6</text>
<line x1="153.10" y1="290.90" x2="160.90" y2="290.90" stroke="#3c9c4c" stroke-width="1.0" />
<circle cx="157.00" cy="290.90" r="1.15" fill="#3c9c4c"/>
<text x="164.00" y="292.90" font-size="6.5" text-anchor="start" font-weight="normal" fill="#333" textLength="23.0" lengthAdjust="spacingAndGlyphs" >Patient 2</text>
<line x1="194.00" y1="290.90" x2="201.80" y2="290.90" stroke="#22406e" stroke-width="1.0" />
<circle cx="197.90" cy="290.90" r="1.15" fill="#1c365e"/>
<text x="204.90" y="292.90" font-size="6.5" text-anchor="start" font-weight="normal" fill="#333" textLength="23.0" lengthAdjust="spacingAndGlyphs" >Patient 3</text>
<line x1="287.80" y1="290.80" x2="295.60" y2="290.80" stroke="#b8193c" stroke-width="1.0" />
<circle cx="291.70" cy="290.80" r="1.15" fill="#a01535"/>
<text x="298.70" y="292.80" font-size="6.5" text-anchor="start" font-weight="normal" fill="#333" textLength="23.0" lengthAdjust="spacingAndGlyphs" >Patient 1</text>
<line x1="328.60" y1="290.80" x2="336.40" y2="290.80" stroke="#3a1d58" stroke-width="1.0" />
<circle cx="332.50" cy="290.80" r="1.15" fill="#2a1238"/>
<text x="339.50" y="292.80" font-size="6.5" text-anchor="start" font-weight="normal" fill="#333" textLength="23.0" lengthAdjust="spacingAndGlyphs" >Patient 4</text>
<line x1="369.10" y1="290.80" x2="376.90" y2="290.80" stroke="#f0a435" stroke-width="1.0" />
<circle cx="373.00" cy="290.80" r="1.15" fill="#f0a435"/>
<text x="380.00" y="292.80" font-size="6.5" text-anchor="start" font-weight="normal" fill="#333" textLength="23.0" lengthAdjust="spacingAndGlyphs" >Patient 5</text>
<line x1="328.60" y1="301.20" x2="336.40" y2="301.20" stroke="#45b0e0" stroke-width="1.0" />
<circle cx="332.50" cy="301.20" r="1.15" fill="#45b0e0"/>
<text x="339.50" y="303.20" font-size="6.5" text-anchor="start" font-weight="normal" fill="#333" textLength="23.0" lengthAdjust="spacingAndGlyphs" >Patient 6</text>
<rect x="0.5" y="0.5" width="519" height="310" fill="none" stroke="#5a5a5a" stroke-width="1"/>
</svg></div></body></html>
